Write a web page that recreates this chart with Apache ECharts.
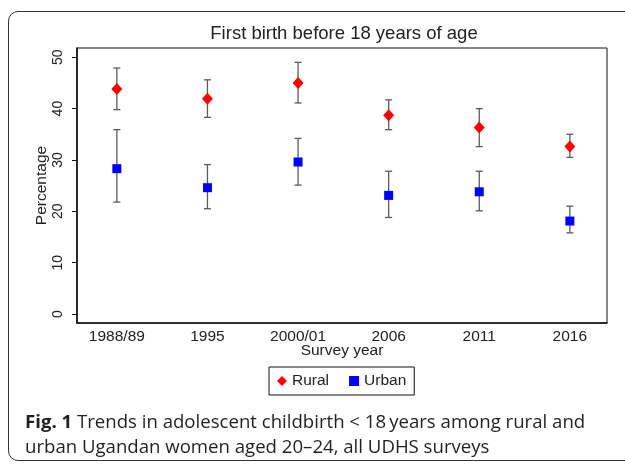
<!DOCTYPE html>
<html>
<head>
<meta charset="utf-8">
<script src="https://cdn.jsdelivr.net/npm/echarts@6/dist/echarts.min.js"></script>
<style>
  html, body { margin:0; padding:0; width:625px; height:465px; overflow:hidden; background:#fff; }
  #frame { position:absolute; left:8px; top:11px; width:640px; height:450px; border:1.5px solid #333; border-radius:10px; box-sizing:border-box; }
  #chart { position:absolute; left:0; top:0; width:625px; height:465px; }
  #caption { position:absolute; left:25px; top:409px; width:600px; font-family:"Open Sans", "Noto Sans", sans-serif; font-size:18.6px; line-height:24.5px; color:#231f20; white-space:nowrap; }
  #caption b { font-weight:700; }
</style>
</head>
<body>
<div id="frame"></div>
<div id="chart"></div>
<div id="caption"><b>Fig. 1</b> Trends in adolescent childbirth &lt; 18&#8201;years among rural and<br>urban Ugandan women aged 20–24, all UDHS surveys</div>
<script>
const categories = ["1988/89", "1995", "2000/01", "2006", "2011", "2016"];
const yTicks = [0, 10, 20, 30, 40, 50];
const ruralValue = [43.8, 41.9, 45.0, 38.7, 36.3, 32.6];
const ruralLow   = [39.8, 38.3, 41.1, 35.9, 32.6, 30.5];
const ruralHigh  = [47.9, 45.6, 49.0, 41.7, 40.0, 35.0];
const urbanValue = [28.3, 24.6, 29.6, 23.1, 23.8, 18.1];
const urbanLow   = [21.8, 20.5, 25.1, 18.8, 20.1, 15.8];
const urbanHigh  = [35.9, 29.1, 34.2, 27.8, 27.8, 21.0];

const chart = echarts.init(document.getElementById('chart'), null, { renderer: 'canvas' });
const font = '"Liberation Sans", Arial, sans-serif';

function errData(lo, hi) {
  return categories.map((c, i) => [i, lo[i], hi[i]]);
}
function renderErr(params, api) {
  const x = api.value(0);
  const lo = api.coord([x, api.value(1)]);
  const hi = api.coord([x, api.value(2)]);
  const w = 3.5;
  const style = { stroke: '#5a5a5a', lineWidth: 1.3, fill: null };
  return {
    type: 'group',
    children: [
      { type: 'line', shape: { x1: lo[0], y1: lo[1], x2: hi[0], y2: hi[1] }, style: style },
      { type: 'line', shape: { x1: lo[0] - w, y1: lo[1], x2: lo[0] + w, y2: lo[1] }, style: style },
      { type: 'line', shape: { x1: hi[0] - w, y1: hi[1], x2: hi[0] + w, y2: hi[1] }, style: style }
    ]
  };
}

chart.setOption({
  animation: false,
  backgroundColor: 'transparent',
  title: {
    text: 'First birth before 18 years of age',
    left: 339, top: 19, textAlign: 'center',
    textStyle: { fontFamily: font, fontSize: 18.5, fontWeight: 'normal', color: '#222' }
  },
  grid: {
    left: 77, right: 18, top: 48, bottom: 142,
    show: true, borderColor: '#111', borderWidth: 1, backgroundColor: '#fff'
  },
  legend: {
    left: 269, top: 367, width: 147,
    orient: 'horizontal',
    borderColor: '#111', borderWidth: 1,
    padding: [6, 8, 6, 8],
    itemGap: 20, itemWidth: 10, itemHeight: 10,
    textStyle: { fontFamily: font, fontSize: 15.5, color: '#222' },
    data: [
      { name: 'Rural', icon: 'diamond' },
      { name: 'Urban', icon: 'rect' }
    ]
  },
  xAxis: {
    type: 'value', min: -0.44, max: 5.41,
    name: 'Survey year', nameLocation: 'middle', nameGap: 20, nameMoveOverlap: false,
    nameTextStyle: { fontFamily: font, fontSize: 15.5, color: '#222' },
    splitLine: { show: false },
    axisLine: { show: true, onZero: false, lineStyle: { color: '#111', width: 1.6 } },
    axisTick: { show: false, customValues: categories.map((c, i) => i) },
    axisLabel: {
      customValues: categories.map((c, i) => i),
      formatter: v => categories[Math.round(v)],
      fontFamily: font, fontSize: 15.5, color: '#222', margin: 6
    }
  },
  yAxis: {
    type: 'value', min: -1.75, max: 51.8,
    name: 'Percentage', nameLocation: 'middle', nameGap: 27, nameMoveOverlap: false,
    nameTextStyle: { fontFamily: font, fontSize: 15.5, color: '#222' },
    splitLine: { show: false },
    axisLine: { show: true, onZero: false, lineStyle: { color: '#111', width: 1.6 } },
    axisTick: { show: true, length: 5, customValues: yTicks, lineStyle: { color: '#111', width: 1 } },
    axisLabel: {
      customValues: yTicks, rotate: 90,
      fontFamily: font, fontSize: 14, color: '#222', margin: 12
    }
  },
  series: [
    { type: 'custom', name: 'ruralCI', data: errData(ruralLow, ruralHigh), renderItem: renderErr, z: 1, silent: true },
    { type: 'custom', name: 'urbanCI', data: errData(urbanLow, urbanHigh), renderItem: renderErr, z: 1, silent: true },
    {
      type: 'scatter', name: 'Rural', symbol: 'diamond', symbolSize: [11, 12],
      itemStyle: { color: '#ff0000', opacity: 1 }, z: 3,
      data: ruralValue.map((v, i) => [i, v])
    },
    {
      type: 'scatter', name: 'Urban', symbol: 'rect', symbolSize: 9,
      itemStyle: { color: '#0000ff', opacity: 1 }, z: 3,
      data: urbanValue.map((v, i) => [i, v])
    }
  ]
});
</script>
</body>
</html>
